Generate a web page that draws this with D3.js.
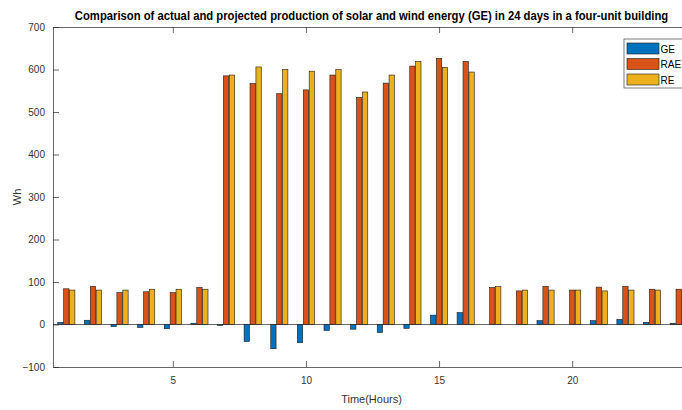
<!DOCTYPE html>
<html>
<head>
<meta charset="utf-8">
<script src="https://cdn.jsdelivr.net/npm/d3@7"></script>
<style>
  body { margin: 0; background: #fff; }
  text { font-family: "Liberation Sans", Arial, sans-serif; }
</style>
</head>
<body>
<div id="chart"></div>
<script>
// data
const days = d3.range(1, 25);
const seriesNames = ["GE", "RAE", "RE"];
const geValues  = [5, 10, -5, -7, -10, 3, -2, -40, -57, -43, -14, -11, -19, -9, 22, 28, 0, 0, 9, 0, 9, 12, 5, 3];
const raeValues = [84, 90, 75, 77, 75, 87, 585, 567, 543, 552, 587, 534, 568, 608, 626, 619, 87, 79, 90, 81, 88, 90, 83, 83];
const reValues  = [81, 81, 81, 83, 83, 83, 587, 606, 600, 596, 600, 547, 587, 619, 605, 594, 89, 81, 81, 81, 79, 81, 81, 80];
const colors = ["#0072BD", "#D95319", "#EDB120"];
const xTicks = [5, 10, 15, 20];
const yTicks = [-100, 0, 100, 200, 300, 400, 500, 600, 700];

const allSeries = [geValues, raeValues, reValues];

const W = 682, H = 410;
const svg = d3.select("#chart").append("svg")
  .attr("width", W).attr("height", H);

// plot box (right side runs past the window, as in the picture)
const pLeft = 53, pRight = 692, pTop = 27, pBottom = 367;

const x = d3.scaleLinear().domain([0.5, 24.5]).range([pLeft, pRight]);
const y = d3.scaleLinear().domain([-100, 700]).range([pBottom, pTop]);

const step = 0.222, barW = 0.2;   // MATLAB-like grouped bars

// bars
allSeries.forEach((vals, s) => {
  svg.append("g").selectAll("rect")
    .data(vals)
    .enter()
    .append("rect")
    .attr("x", (d, i) => x(days[i] + (s - 1) * step - barW / 2))
    .attr("width", x(barW) - x(0))
    .attr("y", d => y(Math.max(0, d)))
    .attr("height", d => Math.abs(y(d) - y(0)))
    .attr("fill", colors[s])
    .attr("stroke", "#1a1a1a")
    .attr("stroke-width", 0.6);
});

// baseline
svg.append("line")
  .attr("x1", pLeft).attr("x2", pRight)
  .attr("y1", y(0)).attr("y2", y(0))
  .attr("stroke", "#262626").attr("stroke-width", 0.7);

// axes (ticks inward like MATLAB)
const axisColor = "#262626";
const xAxis = svg.append("g")
  .attr("transform", `translate(0,${pBottom})`)
  .call(d3.axisBottom(x).tickValues(xTicks).tickSizeInner(-6).tickSizeOuter(0).tickPadding(10));
const xTop = svg.append("g")
  .attr("transform", `translate(0,${pTop})`)
  .call(d3.axisTop(x).tickValues(xTicks).tickSizeInner(-6).tickSizeOuter(0).tickFormat(""));
const yAxis = svg.append("g")
  .attr("transform", `translate(${pLeft},0)`)
  .call(d3.axisLeft(y).tickValues(yTicks).tickSizeInner(-6).tickSizeOuter(0).tickPadding(8));

[xAxis, xTop, yAxis].forEach(g => {
  g.selectAll("path").attr("stroke", axisColor).attr("stroke-width", 0.7);
  g.selectAll("line").attr("stroke", axisColor).attr("stroke-width", 0.7);
  g.selectAll("text").attr("fill", "#333").style("font-size", "10px")
    .style("font-family", "Liberation Sans, Arial, sans-serif");
});

// title: narrow bold face, squeezed horizontally to the reference width
const titleG = svg.append("g");
const title = titleG.append("text")
  .attr("x", 0).attr("y", 0)
  .attr("text-anchor", "middle")
  .style("font-size", "12.5px").style("font-weight", "bold")
  .attr("fill", "#000")
  .text("Comparison of actual and projected production of solar and wind energy (GE) in 24 days in a four-unit building");
const tLen = title.node().getComputedTextLength();
titleG.attr("transform", `translate(${(pLeft + pRight) / 2 - 1},19.5) scale(${594 / tLen},1)`);

svg.append("text")
  .attr("x", (pLeft + pRight) / 2 - 1).attr("y", 403)
  .attr("text-anchor", "middle")
  .style("font-size", "11px").attr("fill", "#333")
  .text("Time(Hours)");

svg.append("text")
  .attr("transform", `translate(21,${(pTop + pBottom) / 2}) rotate(-90)`)
  .attr("text-anchor", "middle")
  .style("font-size", "11px").attr("fill", "#333")
  .text("Wh");

// legend
const lg = svg.append("g").attr("transform", "translate(624,39)");
lg.append("rect")
  .attr("width", 70).attr("height", 49)
  .attr("fill", "#fff").attr("stroke", "#262626").attr("stroke-width", 0.6);
seriesNames.forEach((name, i) => {
  lg.append("rect")
    .attr("x", 3).attr("y", 4 + i * 15.5)
    .attr("width", 32).attr("height", 11)
    .attr("fill", colors[i]).attr("stroke", "#1a1a1a").attr("stroke-width", 0.6);
  lg.append("text")
    .attr("x", 36.5).attr("y", 13.5 + i * 15.5)
    .style("font-size", "10px").attr("fill", "#000")
    .text(name);
});
</script>
</body>
</html>
